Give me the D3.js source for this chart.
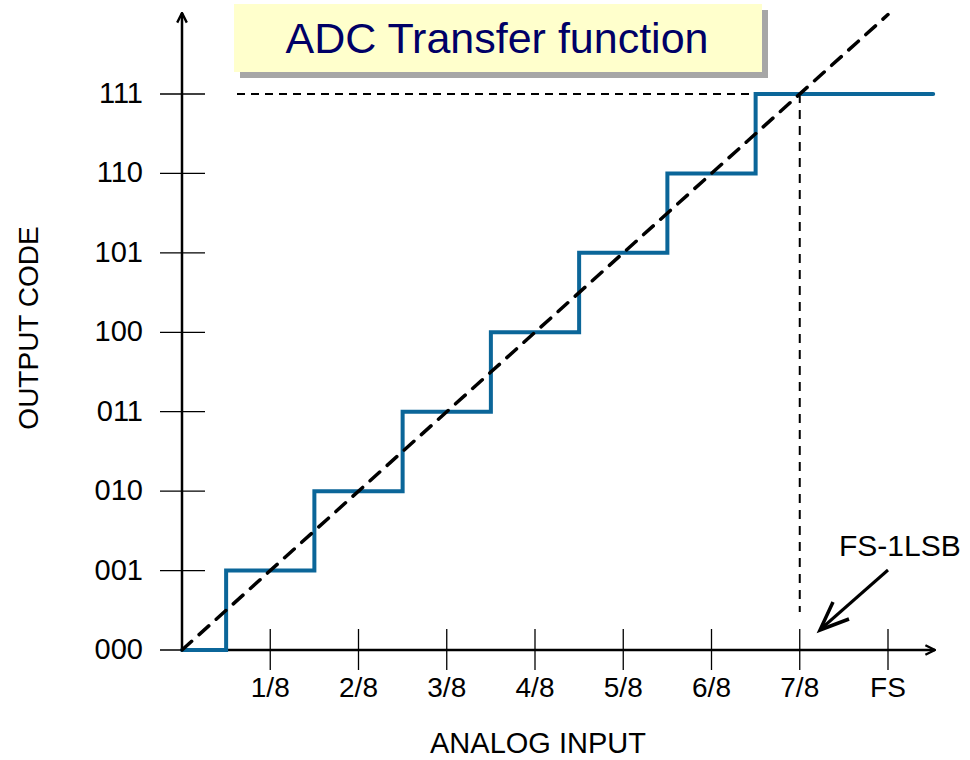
<!DOCTYPE html>
<html><head><meta charset="utf-8">
<script src="https://cdn.jsdelivr.net/npm/d3@7"></script>
<style>body{margin:0;background:#fff}svg{display:block}text{font-family:"Liberation Sans",Arial,sans-serif}</style>
</head><body>
<svg id="c" width="970" height="760"></svg>
<script>
// Data
const xTickValues = [1/8, 2/8, 3/8, 4/8, 5/8, 6/8, 7/8, 1];
const xTickLabels = ["1/8", "2/8", "3/8", "4/8", "5/8", "6/8", "7/8", "FS"];
const yTickValues = [0, 1, 2, 3, 4, 5, 6, 7];
const yTickLabels = ["000", "001", "010", "011", "100", "101", "110", "111"];
// Transfer steps: input transition points and output codes
const stepInputs = [0, 0.5/8, 1.5/8, 2.5/8, 3.5/8, 4.5/8, 5.5/8, 6.5/8, 1.064];
const stepCodes  = [0, 1, 2, 3, 4, 5, 6, 7, 7];
const idealLine = [[0, 0], [1, 8]];

const svg = d3.select("#c");
const x = d3.scaleLinear().domain([0, 1]).range([182, 888]);
const y = d3.scaleLinear().domain([0, 7]).range([650, 94]);

// Title box
svg.append("rect").attr("x", 240).attr("y", 10).attr("width", 528).attr("height", 68).attr("fill", "#a6a6a6");
svg.append("rect").attr("x", 234).attr("y", 4).attr("width", 528).attr("height", 68).attr("fill", "#ffffcc");
svg.append("text").attr("x", 497).attr("y", 53).attr("text-anchor", "middle")
  .attr("font-size", 43).attr("fill", "#000066").text("ADC Transfer function");

// Arrow marker
const defs = svg.append("defs");
defs.append("marker").attr("id", "ah").attr("viewBox", "0 0 10 10").attr("refX", 9).attr("refY", 5)
  .attr("markerWidth", 12).attr("markerHeight", 12).attr("markerUnits", "userSpaceOnUse")
  .attr("orient", "auto")
  .append("path").attr("d", "M1,1 L9,5 L1,9").attr("fill", "none").attr("stroke", "#000").attr("stroke-width", 2);

// Ticks (y)
const gy = svg.append("g");
gy.selectAll("line.t").data(yTickValues).join("line")
  .attr("x1", 160).attr("x2", 205).attr("y1", d => y(d)).attr("y2", d => y(d))
  .attr("stroke", "#000").attr("stroke-width", 1.3);
gy.selectAll("text").data(yTickValues).join("text")
  .attr("x", 143).attr("y", d => y(d) + 9).attr("text-anchor", "end").attr("font-size", 29)
  .text((d, i) => yTickLabels[i]);

// Ticks (x)
const gx = svg.append("g");
gx.selectAll("line.t").data(xTickValues).join("line")
  .attr("x1", d => x(d)).attr("x2", d => x(d)).attr("y1", 629).attr("y2", 670)
  .attr("stroke", "#000").attr("stroke-width", 1.3);
gx.selectAll("text").data(xTickValues).join("text")
  .attr("x", d => x(d)).attr("y", 697).attr("text-anchor", "middle").attr("font-size", 28)
  .text((d, i) => xTickLabels[i]);

// Axes lines with arrows
svg.append("line").attr("x1", x(0)).attr("y1", y(0)).attr("x2", x(0)).attr("y2", 13)
  .attr("stroke", "#000").attr("stroke-width", 2.5).attr("marker-end", "url(#ah)");
svg.append("line").attr("x1", x(0)).attr("y1", y(0)).attr("x2", 935).attr("y2", y(0))
  .attr("stroke", "#000").attr("stroke-width", 2.5).attr("marker-end", "url(#ah)");

// Reference dashed lines
svg.append("line").attr("x1", 237).attr("x2", x(7/8)).attr("y1", y(7)).attr("y2", y(7))
  .attr("stroke", "#000").attr("stroke-width", 2).attr("stroke-dasharray", "8,6");
svg.append("line").attr("x1", x(7/8)).attr("x2", x(7/8)).attr("y1", y(7)).attr("y2", 612)
  .attr("stroke", "#000").attr("stroke-width", 2).attr("stroke-dasharray", "9,7");

// Step function
const stepPts = stepInputs.map((v, i) => [x(v), y(stepCodes[i])]);
const stepLine = d3.line().curve(d3.curveStepAfter);
svg.append("path").attr("d", stepLine(stepPts)).attr("fill", "none")
  .attr("stroke", "#0b6699").attr("stroke-width", 4).attr("stroke-linecap", "round");

// Ideal diagonal
svg.append("path").attr("d", d3.line()(idealLine.map(p => [x(p[0]), y(p[1])])))
  .attr("fill", "none").attr("stroke", "#000").attr("stroke-width", 3.5)
  .attr("stroke-dasharray", "13,10").attr("stroke-linecap", "round");

// FS-1LSB annotation
svg.append("text").attr("x", 839).attr("y", 556).attr("font-size", 30).text("FS-1LSB");
svg.append("line").attr("x1", 888).attr("y1", 570).attr("x2", 822).attr("y2", 628)
  .attr("stroke", "#000").attr("stroke-width", 3);
svg.append("path").attr("d", "M 833 602 L 820 630 L 849 619")
  .attr("fill", "none").attr("stroke", "#000").attr("stroke-width", 3.5).attr("stroke-linejoin", "miter");

// Axis titles
svg.append("text").attr("x", 538).attr("y", 753).attr("text-anchor", "middle").attr("font-size", 29).text("ANALOG INPUT");
svg.append("text").attr("transform", "translate(38,328) rotate(-90)").attr("text-anchor", "middle")
  .attr("font-size", 28).text("OUTPUT CODE");
</script>
</body></html>
